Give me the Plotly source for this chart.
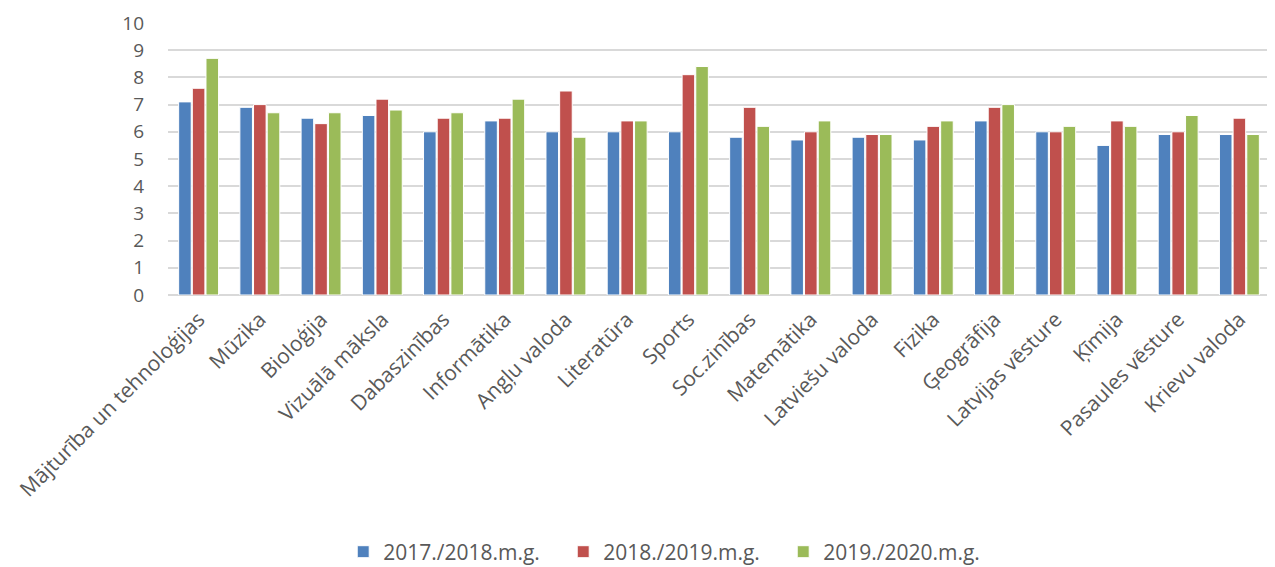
import plotly.graph_objects as go

# Subjects (x categories)
subjects = [
    "Mājturība un tehnoloģijas", "Mūzika", "Bioloģija", "Vizuālā māksla",
    "Dabaszinības", "Informātika", "Angļu valoda", "Literatūra", "Sports",
    "Soc.zinības", "Matemātika", "Latviešu valoda", "Fizika", "Ģeogrāfija",
    "Latvijas vēsture", "Ķīmija", "Pasaules vēsture", "Krievu valoda",
]

# Average marks per school year
y_2017_18 = [7.1, 6.9, 6.5, 6.6, 6.0, 6.4, 6.0, 6.0, 6.0, 5.8, 5.7, 5.8, 5.7, 6.4, 6.0, 5.5, 5.9, 5.9]
y_2018_19 = [7.6, 7.0, 6.3, 7.2, 6.5, 6.5, 7.5, 6.4, 8.1, 6.9, 6.0, 5.9, 6.2, 6.9, 6.0, 6.4, 6.0, 6.5]
y_2019_20 = [8.7, 6.7, 6.7, 6.8, 6.7, 7.2, 5.8, 6.4, 8.4, 6.2, 6.4, 5.9, 6.4, 7.0, 6.2, 6.2, 6.6, 5.9]

series_names = ["2017./2018.m.g.", "2018./2019.m.g.", "2019./2020.m.g."]
colors = ["#4F81BD", "#C0504D", "#9BBB59"]

FONT = "Open Sans"
TEXT_COLOR = "#595959"

fig = go.Figure()
for name, vals, col in zip(series_names, [y_2017_18, y_2018_19, y_2019_20], colors):
    fig.add_trace(go.Bar(
        x=subjects,
        y=vals,
        name=name,
        marker=dict(color=col, line=dict(color="white", width=1)),
    ))

# page body has an 8px margin, so the figure is a bit smaller than the window
fig.update_layout(
    barmode="group",
    bargap=0.33,
    bargroupgap=0.08,
    width=1267,
    height=559,
    margin=dict(l=160, r=5, t=15, b=272, autoexpand=False),
    plot_bgcolor="white",
    paper_bgcolor="white",
    font=dict(family=FONT, color=TEXT_COLOR),
    legend=dict(
        orientation="h",
        x=0.159, xanchor="left",
        y=-0.945, yanchor="middle",
        font=dict(size=21, color=TEXT_COLOR),
        itemwidth=30,
        entrywidth=175,
        entrywidthmode="pixels",
        traceorder="normal",
    ),
)

fig.update_xaxes(
    tickangle=-45,
    tickfont=dict(size=21, color=TEXT_COLOR),
    showgrid=False,
    showline=False,
    ticks="",
    ticklabelstandoff=7,
    automargin=False,
)

fig.update_yaxes(
    range=[0, 10],
    dtick=1,
    tickfont=dict(size=19, color=TEXT_COLOR),
    showgrid=True,
    gridcolor="#D9D9D9",
    gridwidth=1.5,
    zeroline=True,
    zerolinecolor="#D9D9D9",
    zerolinewidth=1.5,
    ticks="",
    ticklabelstandoff=23,
    automargin=False,
)

fig.write_html("out.html")
